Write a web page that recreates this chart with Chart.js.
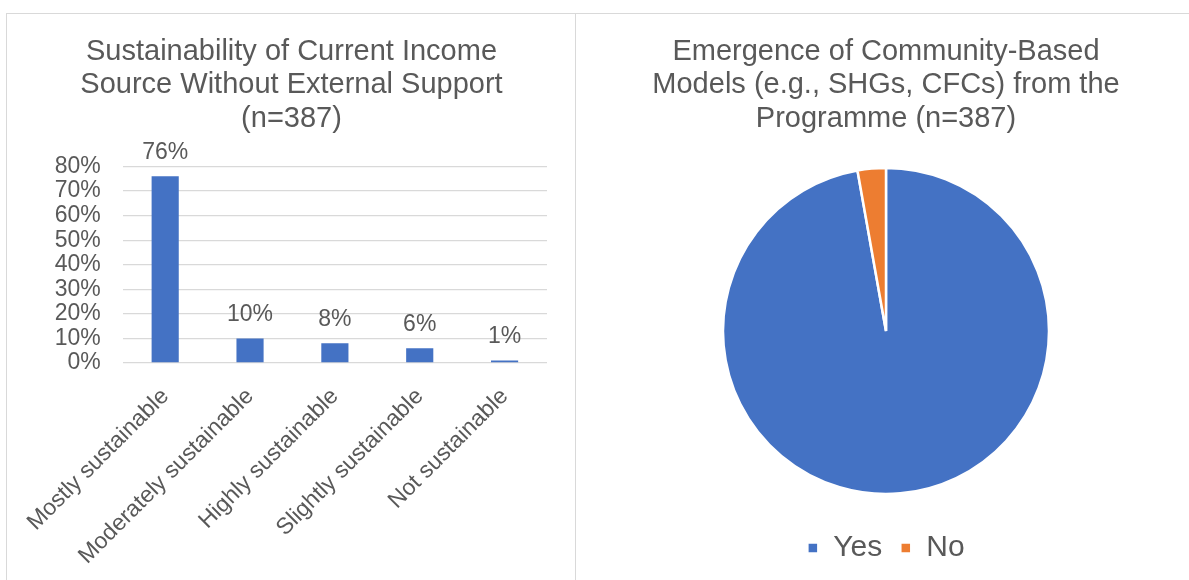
<!DOCTYPE html>
<html>
<head>
<meta charset="utf-8">
<title>Income sustainability and community models</title>
<script src="https://cdn.jsdelivr.net/npm/chart.js@4.4.1/dist/chart.umd.min.js"></script>
<style>
    body { margin: 0; background: #ffffff; overflow: hidden; }
    .box { position: absolute; border: 1.5px solid #d9d9d9; border-bottom: none; background: #fff; }
    #boxBars { left: 6px; top: 13px; width: 568px; height: 620px; }
    #boxPie { left: 575px; top: 13px; width: 640px; height: 620px; border-right: none; }
    canvas { position: absolute; }
    #barChart { left: 1px; top: 1px; }
    #pieChart { left: 1px; top: 1px; }
</style>
</head>
<body>
<div class="box" id="boxBars"><canvas id="barChart" width="567" height="565"></canvas></div>
<div class="box" id="boxPie"><canvas id="pieChart" width="611" height="565"></canvas></div>

<script>
// sustainability of income source (percent of respondents)
const sustainLabels = ['Mostly sustainable', 'Moderately sustainable', 'Highly sustainable', 'Slightly sustainable', 'Not sustainable'];
const sustainValues = [76, 10, 8, 6, 1];
const yTicks = [0, 10, 20, 30, 40, 50, 60, 70, 80];

// community-based models emerging from the programme
const modelLabels = ['Yes', 'No'];
const modelValues = [97.2, 2.8];

const FONT = "'Liberation Sans', Arial, sans-serif";
const GREY = '#595959';
const BLUE = '#4472C4';
const ORANGE = '#ED7D31';

Chart.defaults.font.family = FONT;
Chart.defaults.color = GREY;
Chart.defaults.animation = false;

// writes the value above every bar
const barValues = {
    id: 'barValues',
    afterDatasetsDraw(chart) {
        const ctx = chart.ctx;
        const meta = chart.getDatasetMeta(0);
        ctx.save();
        ctx.font = '23px ' + FONT;
        ctx.fillStyle = GREY;
        ctx.textAlign = 'center';
        ctx.textBaseline = 'middle';
        meta.data.forEach((bar, i) => {
            ctx.fillText(sustainValues[i] + '%', bar.x, bar.y - 24);
        });
        ctx.restore();
    }
};

function graficoBarras() {
    const ctx = document.getElementById('barChart').getContext('2d');
    new Chart(ctx, {
        type: 'bar',
        data: {
            labels: sustainLabels,
            datasets: [{
                data: sustainValues,
                backgroundColor: BLUE,
                barPercentage: 0.32,
                categoryPercentage: 1
            }]
        },
        options: {
            responsive: false,
            plugins: {
                legend: { display: false },
                tooltip: { enabled: false },
                title: {
                    display: true,
                    text: ['Sustainability of Current Income', 'Source Without External Support', '(n=387)'],
                    color: GREY,
                    font: { size: 29, weight: 'normal', lineHeight: 1.155 },
                    padding: { top: 20, bottom: 31 }
                }
            },
            scales: {
                y: {
                    min: 0,
                    max: 80,
                    afterBuildTicks: scale => {
                        scale.ticks = yTicks.map(v => ({ value: v }));
                    },
                    afterFit: scale => { scale.width = 114; },
                    border: { display: false },
                    grid: { color: '#d9d9d9', lineWidth: 1.3, drawTicks: false },
                    ticks: {
                        autoSkip: false,
                        padding: 22,
                        font: { size: 23, lineHeight: 1 },
                        color: GREY,
                        callback: v => v + '%'
                    }
                },
                // empty margin on the right of the plot
                yRight: {
                    position: 'right',
                    afterFit: scale => { scale.width = 28; },
                    border: { display: false },
                    grid: { display: false },
                    ticks: { display: false }
                },
                x: {
                    afterFit: scale => { scale.height = 217; },
                    border: { display: false },
                    grid: { display: false },
                    ticks: {
                        autoSkip: false,
                        minRotation: 45,
                        maxRotation: 45,
                        padding: 12,
                        font: { size: 23 },
                        color: GREY
                    }
                }
            }
        },
        plugins: [barValues]
    });
}

function graficoPizza() {
    const ctx = document.getElementById('pieChart').getContext('2d');
    new Chart(ctx, {
        type: 'pie',
        data: {
            labels: modelLabels,
            datasets: [{
                data: modelValues,
                backgroundColor: [BLUE, ORANGE],
                borderColor: '#ffffff',
                borderWidth: 2.5,
                radius: 163
            }]
        },
        options: {
            responsive: false,
            layout: { padding: { left: 7, right: 0, top: 0, bottom: 7 } },
            plugins: {
                tooltip: { enabled: false },
                title: {
                    display: true,
                    text: ['Emergence of Community-Based', 'Models (e.g., SHGs, CFCs) from the', 'Programme (n=387)'],
                    color: GREY,
                    font: { size: 29, weight: 'normal', lineHeight: 1.155 },
                    padding: { top: 20, bottom: 11.5 }
                },
                legend: {
                    position: 'bottom',
                    labels: {
                        boxWidth: 11,
                        boxHeight: 11,
                        padding: 18,
                        color: GREY,
                        font: { size: 30 }
                    }
                }
            }
        }
    });
}

document.addEventListener('DOMContentLoaded', () => {
    graficoBarras();
    graficoPizza();
});
</script>
</body>
</html>
